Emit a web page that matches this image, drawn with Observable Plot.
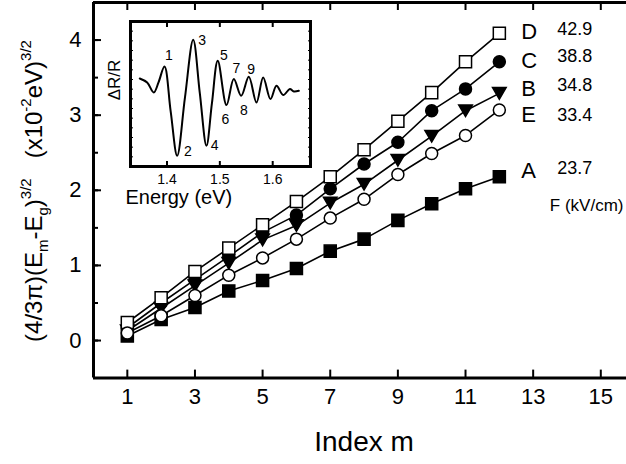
<!DOCTYPE html>
<html><head><meta charset="utf-8">
<script src="https://cdn.jsdelivr.net/npm/d3@7"></script>
<script src="https://cdn.jsdelivr.net/npm/@observablehq/plot@0.6"></script>
<style>
body{margin:0;background:#fff;}
#wrap{position:relative;width:626px;height:464px;overflow:hidden;font-family:"Liberation Sans",Arial,sans-serif;}
#wrap svg{position:absolute;left:0;top:0;overflow:visible;}
</style></head><body><div id="wrap"></div>
<script>
// ---- main chart data ----
const mIndex = [1,2,3,4,5,6,7,8,9,10,11,12];
const seriesNames = ["D","C","B","E","A"];
const fieldValues = ["42.9","38.8","34.8","33.4","23.7"];
const valsD = [0.24,0.57,0.92,1.23,1.54,1.85,2.18,2.54,2.92,3.30,3.71,4.09];
const valsC = [0.17,0.50,0.81,1.12,1.44,1.67,2.02,2.35,2.64,3.06,3.35,3.71];
const valsB = [0.13,0.43,0.73,1.03,1.34,1.53,1.83,2.08,2.40,2.72,3.06,3.29];
const valsE = [0.10,0.33,0.60,0.87,1.10,1.35,1.63,1.88,2.21,2.49,2.73,3.07];
const valsA = [0.06,0.28,0.44,0.66,0.80,0.96,1.19,1.35,1.60,1.82,2.02,2.18];
const xTickLabels = [1,3,5,7,9,11,13,15];
const yTickLabels = [0,1,2,3,4];
const yMinorTicks = [0,0.5,1,1.5,2,2.5,3,3.5,4];
const fieldUnit = "F (kV/cm)";
const xTitle = "Index m";

// ---- inset data ----
const insetEnergy = [1.3485,1.3625,1.375,1.384,1.3953,1.407,1.4193,1.434,1.4496,1.462,1.4747,1.485,1.4961,1.5126,1.5264,1.5404,1.5548,1.5693,1.582,1.5958,1.6072,1.6199,1.6324,1.6400,1.6494];
const insetSignal = [0.214,0.159,0.021,0.16,0.379,-0.24,-0.852,-0.05,0.748,0.02,-0.714,-0.13,0.458,-0.153,0.206,-0.025,0.237,-0.117,0.228,-0.070,0.113,-0.015,0.068,0.035,0.044];
const insetTicks = [1.4,1.5,1.6];
const peakLabels = ["1","2","3","4","5","6","7","8","9"];
const peakLabelE = [1.4034,1.4394,1.4666,1.4904,1.5075,1.5107,1.5315,1.5453,1.5593];
const peakLabelV = [0.537,-0.797,0.734,-0.714,0.527,-0.346,0.352,-0.222,0.343];
const insetXTitle = "Energy (eV)";
const insetYTitle = "ΔR/R";

const FONT = '"Liberation Sans", Arial, sans-serif';
const seriesVals = {D: valsD, C: valsC, B: valsB, E: valsE, A: valsA};
const rows = [];
for (const s of seriesNames) seriesVals[s].forEach((v,i)=>rows.push({s, m: mIndex[i], v}));

const triDown = {draw(ctx, size){const r=Math.sqrt(size/Math.PI);const w=r, h=r*0.85;ctx.moveTo(-w,-h);ctx.lineTo(w,-h);ctx.lineTo(0,h);ctx.closePath();}};
const style = {D:{symbol:"square",fill:"white",r:6.8}, C:{symbol:"circle",fill:"black",r:6}, B:{symbol:triDown,fill:"black",r:6.8}, E:{symbol:"circle",fill:"white",r:6}, A:{symbol:"square",fill:"black",r:6.8}};
const labelDy = {D:-1, C:-1, B:-4, E:5, A:-6};
const valueDy = {D:-4.5, C:-6, B:-8, E:5, A:-9};

const marks = [
  Plot.line(rows, {x:"m", y:"v", z:"s", stroke:"black", strokeWidth:1.6}),
];
for (const s of ["A","C","B","D","E"]) {
  const st = style[s];
  marks.push(Plot.dot(rows.filter(d=>d.s===s), {x:"m", y:"v", symbol: st.symbol, r: st.r, fill: st.fill, stroke:"black", strokeWidth:1.5}));
}
seriesNames.forEach((s,i)=>{
  const last = seriesVals[s][seriesVals[s].length-1];
  marks.push(Plot.text([s], {x: mIndex[mIndex.length-1], y: last, text: d=>d, dx: 22, dy: labelDy[s], textAnchor:"start", lineAnchor:"middle", fontSize: 22, fill:"black"}));
  marks.push(Plot.text([fieldValues[i]], {x: mIndex[mIndex.length-1], y: last, text: d=>d, dx: 58, dy: valueDy[s], textAnchor:"start", lineAnchor:"middle", fontSize: 18, fill:"black"}));
});
marks.push(Plot.text([fieldUnit], {frameAnchor:"top-right", text:d=>d, dx:-3, dy:203, textAnchor:"end", lineAnchor:"middle", fontSize:17, fill:"black"}));
marks.push(Plot.text([xTitle], {frameAnchor:"bottom", text:d=>d, dx:4, dy:64, textAnchor:"middle", lineAnchor:"middle", fontSize:28, fill:"black"}));
marks.push(
  Plot.axisX({anchor:"bottom", ticks: xTickLabels, tickSize:-8, tickPadding:18, tickFormat:d=>d, label:null, strokeWidth:2, fontSize:22}),
  Plot.axisX({anchor:"top", ticks: xTickLabels, tickSize:-7, tickFormat:()=>"", label:null, strokeWidth:2}),
  Plot.axisY({anchor:"left", ticks: yMinorTicks, tickSize:-5, tickFormat:()=>"", label:null, strokeWidth:2}),
  Plot.axisY({anchor:"left", ticks: yTickLabels, tickSize:-8, tickPadding:20, tickFormat:d=>d, label:null, strokeWidth:2, fontSize:22}),
  Plot.ruleX([0], {stroke:"black", strokeWidth:3}),
  Plot.ruleY([-0.5, 4.5], {stroke:"black", strokeWidth:3})
);

const main = Plot.plot({
  width:626, height:464, marginLeft:93, marginRight:0, marginTop:2, marginBottom:86.4,
  x:{domain:[0,15.76]}, y:{domain:[-0.5,4.5]},
  style:{fontSize:"22px", fontFamily:FONT, background:"white", color:"black"},
  marks
});
document.getElementById("wrap").appendChild(main);

// y-axis title with sub/superscripts
const yt = d3.select(main).append("text")
  .attr("transform","translate(42,191) rotate(-90)")
  .attr("text-anchor","middle").attr("font-size",24).attr("fill","black")
  .style("white-space","pre").attr("font-family",FONT);
const parts = [["(4/3π)(E",0,24],["m",6,15],["-E",-6,24],["g",6,15],[")",-6,24],["3/2",-11,15],["   (x10",11,24],["-2",-11,15],["eV)",11,24],["3/2",-11,15]];
for (const [t,dy,fs] of parts) yt.append("tspan").attr("dy",dy).attr("font-size",fs).text(t);

// ---- inset ----
const inRows = insetEnergy.map((e,i)=>({e, v: insetSignal[i]}));
const inYTicks = [1,2,3,4,5,6,7,8,9,10,11,12,13,14].map(i=>-1+i*2/15);
const inset = Plot.plot({
  width:230, height:215, marginLeft:40, marginRight:10, marginTop:21, marginBottom:49,
  x:{domain:[1.331,1.6715]}, y:{domain:[-1,1]},
  style:{fontSize:"14px", fontFamily:FONT, background:"transparent", color:"black", overflow:"visible"},
  marks:[
    Plot.line(inRows, {x:"e", y:"v", curve:"catmull-rom", stroke:"black", strokeWidth:2}),
    Plot.text(peakLabels.map((t,i)=>({t, e:peakLabelE[i], v:peakLabelV[i]})), {x:"e", y:"v", text:"t", fontSize:14, fill:"black"}),
    Plot.axisX({anchor:"bottom", ticks: insetTicks, tickSize:-5, tickPadding:13, tickFormat:d=>d.toFixed(1), label:null, strokeWidth:2, fontSize:14}),
    Plot.axisX({anchor:"top", ticks: insetTicks, tickSize:-5, tickFormat:()=>"", label:null, strokeWidth:2}),
    Plot.axisY({anchor:"left", ticks: inYTicks, tickSize:-3, tickFormat:()=>"", label:null}),
    Plot.axisY({anchor:"right", ticks: inYTicks, tickSize:-3, tickFormat:()=>"", label:null}),
    Plot.frame({stroke:"black", strokeWidth:3}),
    Plot.text([insetXTitle], {frameAnchor:"bottom-left", text:d=>d, textAnchor:"start", lineAnchor:"middle", dx:-5, dy:31.5, fontSize:20, fill:"black"})
  ]
});
inset.style.left = "90px"; inset.style.top = "0px";
document.getElementById("wrap").appendChild(inset);
d3.select(inset).append("text")
  .attr("transform","translate(24,80) rotate(-90)")
  .attr("text-anchor","middle").attr("dominant-baseline","central")
  .attr("font-size",17).attr("fill","black").attr("font-family",FONT)
  .text(insetYTitle);
</script></body></html>
